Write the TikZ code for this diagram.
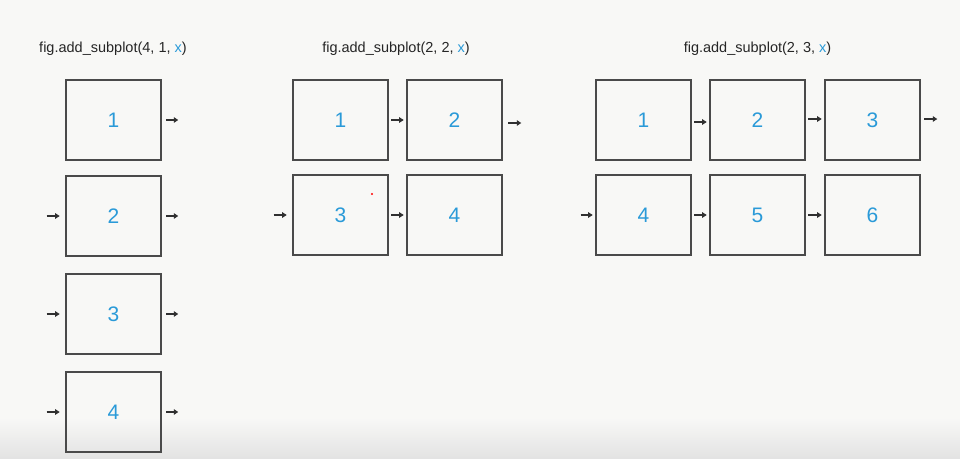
\documentclass[tikz,border=0pt]{standalone}
\usepackage{fontspec}
\setmainfont{Liberation Sans}
\usetikzlibrary{arrows.meta}
\definecolor{bgc}{HTML}{F8F8F6}
\definecolor{boxc}{HTML}{4A4A4A}
\definecolor{numc}{HTML}{2A9AD8}
\definecolor{arrc}{HTML}{303030}
\tikzset{
  pane/.style={draw=boxc, line width=1.6pt, minimum width=95pt, minimum height=80pt, inner sep=0pt,
    text=numc, font=\fontsize{21}{21}\selectfont},
  ttl/.style={anchor=base, font=\fontsize{14.5}{16}\selectfont, text=black!85, inner sep=0pt},
  arr/.style={draw=arrc, line width=1.5pt, -{Triangle[length=4.5pt,width=5.5pt]}},
}
\newcommand{\bx}{\textcolor{numc}{x}}
\begin{document}
\begin{tikzpicture}[x=1pt,y=-1pt]
\fill[bgc] (0,0) rectangle (960,458);
\shade[top color=bgc, bottom color=black!11] (0,418) rectangle (960,458);
\useasboundingbox (0,0) rectangle (960,458);

% titles
\node[ttl] (t1) at (113,52.5) {fig.add\_subplot(4, 1, \bx)};
\node[ttl] (t2) at (396,52.5) {fig.add\_subplot(2, 2, \bx)};
\node[ttl] (t3) at (757.5,52.5) {fig.add\_subplot(2, 3, \bx)};

% left column (4,1)
\node[pane] (a1) at (113.5,120) {1};
\node[pane] (a2) at (113.5,216) {2};
\node[pane] (a3) at (113.5,314) {3};
\node[pane] (a4) at (113.5,412) {4};
\foreach \i in {1,2,3,4}{
  \coordinate (ar\i) at ([xshift=16.5pt]a\i.east);
  \draw[arr] ([xshift=4.5pt]a\i.east) -- (ar\i);
}
\foreach \i in {2,3,4}{
  \coordinate (al\i) at ([xshift=-18.5pt]a\i.west);
  \draw[arr] (al\i) -- ([xshift=-5.5pt]a\i.west);
}

% middle (2,2)
\node[pane] (b1) at (340.5,120) {1};
\node[pane] (b2) at (454.5,120) {2};
\node[pane] (b3) at (340.5,215) {3};
\node[pane] (b4) at (454.5,215) {4};
\draw[arr] ([xshift=2.5pt]b1.east) -- ([xshift=-2.5pt]b2.west);
\draw[arr] ([xshift=2.5pt]b3.east) -- ([xshift=-2.5pt]b4.west);
\coordinate (br2) at ([xshift=18.5pt,yshift=-3pt]b2.east);
\draw[arr] ([xshift=5.5pt,yshift=-3pt]b2.east) -- (br2);
\coordinate (bl3) at ([xshift=-18.5pt]b3.west);
\draw[arr] (bl3) -- ([xshift=-5.5pt]b3.west);
\fill[red] (372,194) circle (1.1pt);

% right (2,3)
\node[pane] (c1) at (643.5,120) {1};
\node[pane] (c2) at (757.5,120) {2};
\node[pane] (c3) at (872.5,120) {3};
\node[pane] (c4) at (643.5,215) {4};
\node[pane] (c5) at (757.5,215) {5};
\node[pane] (c6) at (872.5,215) {6};
\draw[arr] ([xshift=2.5pt,yshift=-2pt]c1.east) -- ([xshift=-2.5pt,yshift=-2pt]c2.west);
\draw[arr] ([xshift=2.5pt,yshift=1pt]c2.east) -- ([xshift=-2.5pt,yshift=1pt]c3.west);
\coordinate (cr3) at ([xshift=16.5pt,yshift=1pt]c3.east);
\draw[arr] ([xshift=3.5pt,yshift=1pt]c3.east) -- (cr3);
\coordinate (cl4) at ([xshift=-14.5pt]c4.west);
\draw[arr] (cl4) -- ([xshift=-2.5pt]c4.west);
\draw[arr] ([xshift=2.5pt]c4.east) -- ([xshift=-2.5pt]c5.west);
\draw[arr] ([xshift=2.5pt]c5.east) -- ([xshift=-2.5pt]c6.west);
\end{tikzpicture}
\end{document}
